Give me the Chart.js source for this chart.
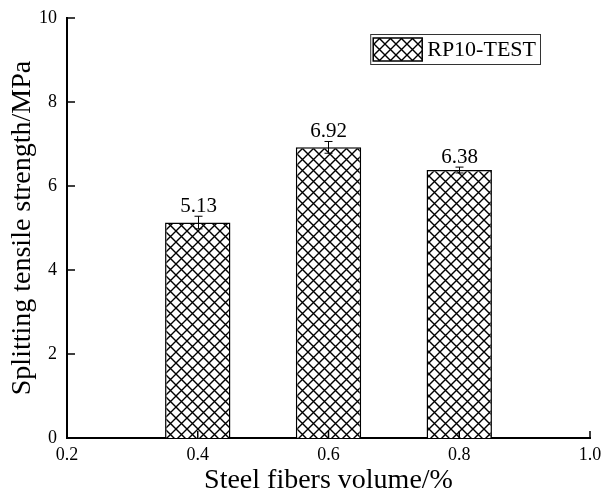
<!DOCTYPE html>
<html>
<head>
<meta charset="utf-8">
<script src="https://cdn.jsdelivr.net/npm/chart.js@4.4.0/dist/chart.umd.min.js"></script>
<style>
  html, body { margin: 0; padding: 0; background: #fff; }
  #wrap { width: 603px; height: 497px; }
</style>
</head>
<body>
<div id="wrap"><canvas id="chart"></canvas></div>
<script>
// data
const fiberVolume = [0.4, 0.6, 0.8];
const strength = [5.13, 6.92, 6.38];
const strengthErr = [0.15, 0.14, 0.07];
const seriesLabel = 'RP10-TEST';
const xTicks = [0.2, 0.4, 0.6, 0.8, 1.0];
const yTicks = [0, 2, 4, 6, 8, 10];

const FONT = "'Liberation Serif', 'Times New Roman', serif";

// crosshatch fill like the original
function makeHatch(size) {
  const c = document.createElement('canvas');
  c.width = size;
  c.height = size;
  const g = c.getContext('2d');
  g.fillStyle = '#fff';
  g.fillRect(0, 0, size, size);
  g.strokeStyle = '#000';
  g.lineWidth = 1.4;
  g.beginPath();
  g.moveTo(-1, -1); g.lineTo(size + 1, size + 1);
  g.moveTo(size + 1, -1); g.lineTo(-1, size + 1);
  g.stroke();
  return g.createPattern(c, 'repeat');
}
const hatch = makeHatch(11);

const extras = {
  id: 'extras',
  afterDatasetsDraw(chart) {
    const { ctx, chartArea, scales: { x, y } } = chart;
    ctx.save();

    // error bars + value labels
    ctx.strokeStyle = '#000';
    ctx.lineWidth = 1;
    ctx.fillStyle = '#000';
    ctx.font = '21px ' + FONT;
    ctx.textAlign = 'center';
    ctx.textBaseline = 'alphabetic';
    fiberVolume.forEach((v, i) => {
      const px = Math.round(x.getPixelForValue(v)) + 0.5;
      const hi = y.getPixelForValue(strength[i] + strengthErr[i]);
      const lo = y.getPixelForValue(strength[i] - strengthErr[i]);
      ctx.beginPath();
      ctx.moveTo(px, hi); ctx.lineTo(px, lo);
      ctx.moveTo(px - 4, hi); ctx.lineTo(px + 4, hi);
      ctx.moveTo(px - 4, lo); ctx.lineTo(px + 4, lo);
      ctx.stroke();
      ctx.fillText(strength[i].toFixed(2), px, hi - 4);
    });

    // inward tick marks
    ctx.lineWidth = 1.5;
    ctx.beginPath();
    yTicks.forEach(t => {
      const py = y.getPixelForValue(t);
      ctx.moveTo(chartArea.left, py);
      ctx.lineTo(chartArea.left + 8, py);
    });
    xTicks.slice(1).forEach(t => {
      const px = x.getPixelForValue(t);
      ctx.moveTo(px, chartArea.bottom);
      ctx.lineTo(px, chartArea.bottom - 7);
    });
    ctx.stroke();

    // legend box inside the plot
    ctx.font = '22px ' + FONT;
    const tw = ctx.measureText(seriesLabel).width;
    const bw = 3 + 49 + 6 + tw + 3;
    const bh = 30;
    const bx = chartArea.right - 50 - bw;
    const by = chartArea.top + 16;
    ctx.fillStyle = '#fff';
    ctx.fillRect(bx, by, bw, bh);
    ctx.strokeStyle = '#333';
    ctx.lineWidth = 1;
    ctx.strokeRect(bx + 0.5, by + 0.5, bw, bh);
    ctx.fillStyle = hatch;
    ctx.fillRect(bx + 3, by + 4, 49, 23);
    ctx.strokeStyle = '#000';
    ctx.lineWidth = 1.5;
    ctx.strokeRect(bx + 3, by + 4, 49, 23);
    ctx.fillStyle = '#000';
    ctx.textAlign = 'left';
    ctx.textBaseline = 'middle';
    ctx.fillText(seriesLabel, bx + 3 + 49 + 5, by + bh / 2 + 1);

    ctx.restore();
  }
};

new Chart(document.getElementById('chart'), {
  type: 'bar',
  data: {
    datasets: [{
      label: seriesLabel,
      data: fiberVolume.map((v, i) => ({ x: v, y: strength[i] })),
      backgroundColor: hatch,
      borderColor: '#000',
      borderWidth: 1.5,
      barPercentage: 0.5,
      categoryPercentage: 1
    }]
  },
  options: {
    responsive: true,
    maintainAspectRatio: false,
    animation: false,
    layout: { padding: { left: 0, top: 18, right: 13, bottom: 0 } },
    plugins: {
      legend: { display: false },
      tooltip: { enabled: false }
    },
    scales: {
      x: {
        type: 'linear',
        min: 0.2,
        max: 1.0,
        offset: false,
        grid: { display: false, drawTicks: false, offset: false },
        border: { display: true, color: '#000', width: 2 },
        afterBuildTicks: s => { s.ticks = xTicks.map(v => ({ value: v })); },
        afterFit: s => { s.height = 59; s.paddingLeft = 0; s.paddingRight = 0; },
        ticks: {
          padding: 6,
          color: '#000',
          font: { family: FONT, size: 18 },
          callback: v => v.toFixed(1)
        },
        title: {
          display: true,
          text: 'Steel fibers volume/%',
          color: '#000',
          font: { family: FONT, size: 28 },
          padding: 0
        }
      },
      y: {
        min: 0,
        max: 10,
        grid: { display: false, drawTicks: false },
        border: { display: true, color: '#000', width: 2 },
        afterBuildTicks: s => { s.ticks = yTicks.map(v => ({ value: v })); },
        afterFit: s => { s.width = 67; s.paddingTop = 0; s.paddingBottom = 0; },
        ticks: {
          padding: 10,
          color: '#000',
          font: { family: FONT, size: 18 }
        },
        title: {
          display: true,
          text: 'Splitting tensile strength/MPa',
          color: '#000',
          font: { family: FONT, size: 28 },
          padding: { top: 6, bottom: 0 }
        }
      }
    }
  },
  plugins: [extras]
});
</script>
</body>
</html>
